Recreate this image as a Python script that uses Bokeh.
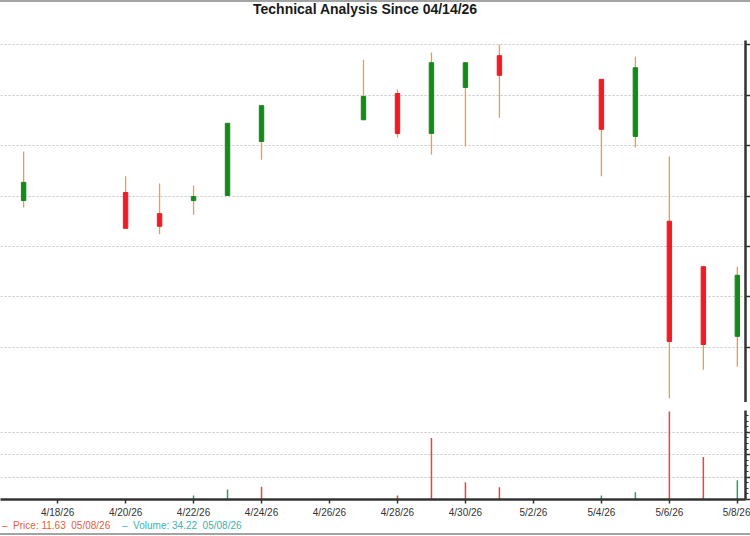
import pandas as pd
from bokeh.plotting import figure
from bokeh.models import Range1d, FixedTicker, Div, CustomJSTickFormatter
from bokeh.layouts import column
from bokeh.embed import file_html
from bokeh.resources import INLINE

# ---------------- data ----------------
title_text = "Technical Analysis Since 04/14/26"
start_date = "2026-04-14"
dates = ["2026-04-17", "2026-04-20", "2026-04-21", "2026-04-22", "2026-04-23", "2026-04-24",
         "2026-04-27", "2026-04-28", "2026-04-29", "2026-04-30", "2026-05-01",
         "2026-05-04", "2026-05-05", "2026-05-06", "2026-05-07", "2026-05-08"]
open_ = [13.11, 13.27, 12.85, 13.11, 13.21, 14.28, 14.71, 15.23, 14.44, 15.35, 15.98, 15.51, 14.38, 12.70, 11.80, 10.42]
high = [14.08, 13.59, 13.45, 13.41, 14.64, 14.99, 15.90, 15.31, 16.04, 15.84, 16.20, 15.51, 15.96, 13.98, 11.80, 11.80]
low = [12.97, 12.56, 12.44, 12.83, 13.21, 13.92, 14.71, 14.36, 14.02, 14.18, 14.75, 13.59, 14.16, 9.19, 9.76, 9.82]
close = [13.47, 12.56, 12.60, 13.19, 14.64, 14.99, 15.17, 14.44, 15.84, 15.84, 15.59, 14.52, 15.74, 10.32, 10.26, 11.63]
volume = [0.3, 0.3, 1.0, 7.0, 18.0, 23.0, 0.4, 7.0, 110.0, 31.0, 22.0, 7.0, 13.0, 157.0, 76.0, 34.22]
volume_up = [True, False, True, True, True, False, True, False, False, False, False, True, True, False, False, True]

tick_dates = ["2026-04-18", "2026-04-20", "2026-04-22", "2026-04-24", "2026-04-26", "2026-04-28",
              "2026-04-30", "2026-05-02", "2026-05-04", "2026-05-06", "2026-05-08"]
tick_labels = ["4/18/26", "4/20/26", "4/22/26", "4/24/26", "4/26/26", "4/28/26",
               "4/30/26", "5/2/26", "5/4/26", "5/6/26", "5/8/26"]
price_ticks = [10.2, 11.2, 12.2, 13.2, 14.2, 15.2, 16.2]
volume_ticks = [0, 40, 80, 120, 160]
volume_minor_step = 10
last_price, last_volume, last_date = 11.63, 34.22, "05/08/26"

# ---------------- styles ----------------
FONT = "Liberation Sans"
UP, DOWN, WICK = "#15891a", "#ee1c24", "#f29a3e"
VUP, VDOWN = "#2f9e58", "#e8463a"
AXIS = "#333333"
GRID = "#c4c4c4"
FRAME = "#a3a3a3"
W = 750

base = pd.Timestamp(start_date)
def day(d):
    return float((pd.Timestamp(d) - base).days)

xs = [day(d) for d in dates]
tick_x = [day(d) for d in tick_dates]
xr = Range1d(2.32, 24.24)

body_top = [max(o, c) for o, c in zip(open_, close)]
body_bot = [min(o, c) for o, c in zip(open_, close)]
body_col = [UP if c >= o else DOWN for o, c in zip(open_, close)]
vol_col = [VUP if u else VDOWN for u in volume_up]

# ---------------- title ----------------
title_html = (
    f'<div style="position:relative;box-sizing:border-box;width:{W}px;height:40px;'
    f'border-top:2px solid {FRAME};overflow:hidden;white-space:nowrap;">'
    f'<span style="position:absolute;left:253px;top:-1px;font-family:\'{FONT}\',Arial,sans-serif;'
    f'font-size:14px;line-height:16px;font-weight:bold;color:#1a1a1a;">{title_text}</span></div>'
)
title_div = Div(text=title_html, width=W, height=40, margin=0)

# ---------------- price panel ----------------
p = figure(width=W, height=362, x_range=xr, y_range=Range1d(9.11, 16.28),
           x_axis_location=None, y_axis_location="right",
           output_backend="svg", toolbar_location=None)
p.min_border_left = 0
p.min_border_bottom = 0
p.min_border_right = 0
p.min_border_top = 0
p.outline_line_color = None
p.background_fill_color = "white"
p.border_fill_color = "white"

ya = p.yaxis[0]
ya.ticker = FixedTicker(ticks=price_ticks)
ya.formatter = CustomJSTickFormatter(code="return ''")
ya.axis_line_width = 2.5
ya.axis_line_color = AXIS
ya.major_tick_line_color = AXIS
ya.major_tick_line_width = 1.5
ya.major_tick_out = 5
ya.major_tick_in = 0
ya.minor_tick_line_color = None
ya.major_label_standoff = 0
p.xgrid.visible = False
p.ygrid.grid_line_color = GRID
p.ygrid.grid_line_dash = "2 2"
p.ygrid.grid_line_width = 1

p.segment(x0=xs, y0=low, x1=xs, y1=high, line_color=WICK, line_width=1.3)
p.vbar(x=xs, width=0.13, top=body_top, bottom=body_bot,
       fill_color=body_col, line_color=body_col)

# ---------------- volume panel ----------------
v = figure(width=W, height=118, x_range=xr, y_range=Range1d(0, 159),
           y_axis_location="right", output_backend="svg", toolbar_location=None)
v.min_border_left = 0
v.min_border_right = 0
v.min_border_top = 8
v.min_border_bottom = 0
v.outline_line_color = None
v.xgrid.visible = False
v.ygrid.grid_line_color = GRID
v.ygrid.grid_line_dash = "2 2"

xa = v.xaxis[0]
xa.ticker = FixedTicker(ticks=tick_x)
xa.major_label_overrides = {t: lab for t, lab in zip(tick_x, tick_labels)}
xa.axis_line_width = 2.5
xa.axis_line_color = AXIS
xa.major_tick_line_color = AXIS
xa.major_tick_line_width = 1.5
xa.major_tick_out = 4
xa.major_tick_in = 0
xa.minor_tick_line_color = None
xa.major_label_text_font = FONT
xa.major_label_text_font_size = "10px"
xa.major_label_text_color = "#333333"
xa.major_label_standoff = 3

minor = [m for m in range(volume_ticks[0], volume_ticks[-1] + 1, volume_minor_step) if m not in volume_ticks]
vy = v.yaxis[0]
vy.ticker = FixedTicker(ticks=volume_ticks, minor_ticks=minor)
vy.formatter = CustomJSTickFormatter(code="return ''")
vy.axis_line_width = 2.5
vy.axis_line_color = AXIS
vy.major_tick_line_color = AXIS
vy.major_tick_line_width = 1.5
vy.major_tick_out = 5
vy.major_tick_in = 0
vy.minor_tick_line_color = AXIS
vy.minor_tick_out = 3
vy.minor_tick_in = 0
vy.major_label_standoff = 0

v.segment(x0=xs, y0=[0] * len(xs), x1=xs, y1=volume, line_color=vol_col, line_width=1.5)

# ---------------- legend ----------------
legend_html = (
    f'<div style="position:relative;box-sizing:border-box;width:{W}px;height:15px;'
    f'border-bottom:2px solid {FRAME};overflow:hidden;white-space:nowrap;'
    f'font-family:\'{FONT}\',Arial,sans-serif;font-size:10px;line-height:12px;">'
    f'<span style="position:absolute;left:2px;top:0px;color:#e4603e;">&ndash;&nbsp; Price: {last_price:.2f}&nbsp;&nbsp;{last_date}</span>'
    f'<span style="position:absolute;left:122px;top:0px;color:#3cb2b2;">&ndash;&nbsp;&nbsp;Volume: {last_volume:.2f}&nbsp;&nbsp;{last_date}</span>'
    '</div>'
)
legend = Div(text=legend_html, width=W, height=15, margin=0)

layout = column(title_div, p, v, legend, spacing=0)
open("out.html", "w").write(file_html(layout, INLINE))
